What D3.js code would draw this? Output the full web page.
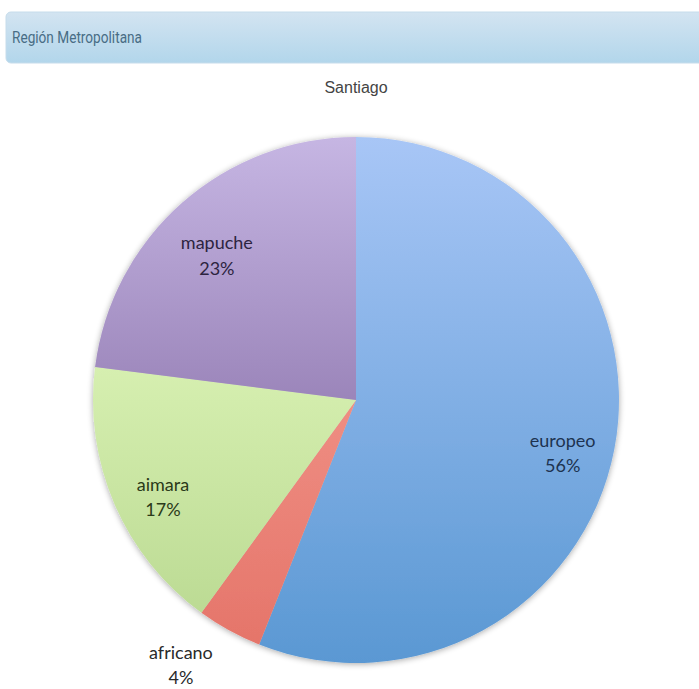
<!DOCTYPE html>
<html><head><meta charset="utf-8">
<script src="https://cdn.jsdelivr.net/npm/d3@7"></script>
<style>body{margin:0;background:#fff}svg{display:block}</style>
</head><body>
<svg id="c" width="699" height="689"></svg>
<script>
const headerTitle = "Región Metropolitana";
const chartTitle = "Santiago";
const categories = ["europeo", "africano", "aimara", "mapuche"];
const values = [56, 4, 17, 23];
const colorTop = ["#a8c6f6", "#ef8e83", "#d6efb0", "#c6b6e3"];
const colorBottom = ["#5a98d3", "#e5756a", "#bcdb94", "#9b85ba"];
const textColors = ["#1d3350", "#2a2a2a", "#2b3a1a", "#2d2440"];

const svg = d3.select("#c");
const defs = svg.append("defs");

// header bar
const hg = defs.append("linearGradient").attr("id","hg").attr("x1",0).attr("y1",0).attr("x2",0).attr("y2",1);
hg.append("stop").attr("offset","0%").attr("stop-color","#d3e4f1");
hg.append("stop").attr("offset","100%").attr("stop-color","#b2d6eb");
svg.append("rect").attr("x",6).attr("y",12).attr("width",710).attr("height",51).attr("rx",5)
  .attr("fill","url(#hg)").attr("stroke","#c6dceb");
svg.append("text").attr("x",12).attr("y",43).text(headerTitle)
  .attr("font-family","Roboto, sans-serif").attr("font-size",17)
  .attr("textLength",130).attr("lengthAdjust","spacingAndGlyphs")
  .attr("fill","#486d85");

svg.append("text").attr("x",356).attr("y",93).attr("text-anchor","middle").text(chartTitle)
  .attr("font-family","'Liberation Sans', Arial, sans-serif").attr("font-size",16).attr("fill","#444");

const cx = 356, cy = 400, r = 263;
const total = d3.sum(values);
const data = categories.map((c,i)=>({name:c, value:values[i], i}));
const pie = d3.pie().sort(null).value(d=>d.value);
const arcs = pie(data);
const arc = d3.arc().innerRadius(0).outerRadius(r);

// shadow filter
const f = defs.append("filter").attr("id","sh").attr("x","-10%").attr("y","-10%").attr("width","120%").attr("height","120%");
f.append("feGaussianBlur").attr("in","SourceAlpha").attr("stdDeviation",3);
f.append("feOffset").attr("dx",0).attr("dy",1).attr("result","b");
f.append("feComponentTransfer").append("feFuncA").attr("type","linear").attr("slope",0.35);
const fm = f.append("feMerge"); fm.append("feMergeNode"); fm.append("feMergeNode").attr("in","SourceGraphic");

data.forEach((d,i)=>{
  const g = defs.append("linearGradient").attr("id","g"+i).attr("x1",0).attr("y1",0).attr("x2",0).attr("y2",1);
  g.append("stop").attr("offset","0%").attr("stop-color",colorTop[i]);
  g.append("stop").attr("offset","100%").attr("stop-color",colorBottom[i]);
});

const gp = svg.append("g").attr("transform",`translate(${cx},${cy})`);
gp.append("g").attr("filter","url(#sh)").selectAll("path").data(arcs).join("path")
  .attr("d",arc).attr("fill",d=>`url(#g${d.data.i})`);

const fmt = v => Math.round(v/total*100) + "%";
const isOut = d => (d.endAngle-d.startAngle)/(2*Math.PI) < 0.05;
const lab = gp.selectAll("text.l").data(arcs).join("text").attr("class","l")
  .attr("text-anchor","middle").attr("font-family","Lato, 'Open Sans', sans-serif").attr("font-size",18)
  .attr("fill",d=>textColors[d.data.i]);
lab.append("tspan").attr("class","n").attr("x",0).attr("dy",d=>isOut(d)?"-0.1em":"0.4em").text(d=>d.data.name);
lab.append("tspan").attr("x",0).attr("dy","1.4em").text(d=>fmt(d.data.value));
lab.attr("transform",function(d){
  const lr = isOut(d) ? r*1.13 : r*0.8;
  const a = (d.startAngle+d.endAngle)/2;
  let x = Math.sin(a)*lr;
  if (isOut(d)) {
    const w = d3.select(this).select("tspan.n").node().getComputedTextLength();
    x += (x < 0 ? -w/2 : w/2);
  }
  return `translate(${x},${-Math.cos(a)*lr})`;
});
</script>
</body></html>
